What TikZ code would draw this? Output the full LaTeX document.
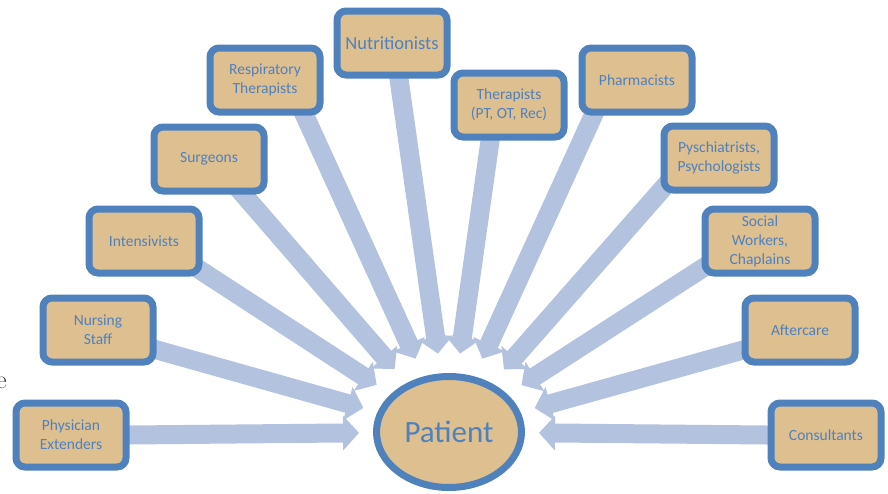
\documentclass[tikz,border=0pt]{standalone}
\usepackage{fontspec}
\newfontfamily\calibri{Carlito}
\usetikzlibrary{arrows.meta,calc,shapes.geometric}

\definecolor{rim}{HTML}{4F81BD}
\definecolor{sand}{HTML}{DEBF90}
\definecolor{flowblue}{HTML}{B3C3DF}
\definecolor{label}{HTML}{4F81BD}

\pgfdeclarelayer{bg}
\pgfsetlayers{bg,main}

\begin{document}
\begin{tikzpicture}[x=1pt,y=-1pt,
  member/.style={draw=rim, line width=7pt, fill=sand, rounded corners=9pt,
    minimum width=110pt, minimum height=64pt, inner sep=0pt, align=center,
    text=label, font=\calibri\fontsize{15.5}{19}\selectfont},
  hub/.style={ellipse, draw=rim, line width=7pt, fill=sand,
    minimum width=145pt, minimum height=111pt, inner sep=0pt,
    text=label, font=\calibri\fontsize{31}{31}\selectfont},
  flow/.style={draw=flowblue, line width=19pt,
    -{Triangle[width=34pt,length=16pt]}},
]
\useasboundingbox (0,0) rectangle (888,493);

% care team around the patient
\node[member] (pe)  at (71,435)  {Physician\\Extenders};
\node[member] (ns)  at (98,330)  {Nursing\\Staff};
\node[member] (int) at (144,241) {Intensivists};
\node[member] (sur) at (209,159) {Surgeons};
\node[member] (rt)  at (265,80)  {Respiratory\\Therapists};
\node[member, font=\calibri\fontsize{18.5}{22}\selectfont] (nut) at (392,43) {Nutritionists};
\node[member] (th)  at (509,105) {Therapists\\(PT, OT, Rec)};
\node[member] (ph)  at (637,80)  {Pharmacists};
\node[member] (psy) at (719,158) {Pyschiatrists,\\Psychologists};
\node[member] (sw)  at (760,241) {Social\\Workers,\\Chaplains};
\node[member] (ac)  at (800,330) {Aftercare};
\node[member] (con) at (826,435) {Consultants};

\node[hub] (pat) at (449,432) {Patient};

% stray letter at the left edge
\node[anchor=base west, inner sep=0pt, font=\fontsize{26}{26}\selectfont,
  text=black!80] (frag) at (-4,388) {e};

% block arrows from each team member towards the patient
\begin{pgfonlayer}{bg}
\foreach \n/\dx/\dy/\dist in {pe/58/0/90, ns/59/20/89, int/59/31/86.3,
    sur/34/35/83.2, rt/40/36/80.6, nut/7/36/79.2, th/-19/36/79.2,
    ph/-44/36/80.6, psy/-54/28/83.3, sw/-57/27/86.3, ac/-57/20/89,
    con/-59/0/90}{
  \coordinate (exit-\n) at ([shift={(\dx,\dy)}]\n.center);
  \draw[flow] ($(exit-\n)!-24pt!(pat.center)$) -- ($(pat.center)!\dist pt!(exit-\n)$);
}
\end{pgfonlayer}
\end{tikzpicture}
\end{document}
